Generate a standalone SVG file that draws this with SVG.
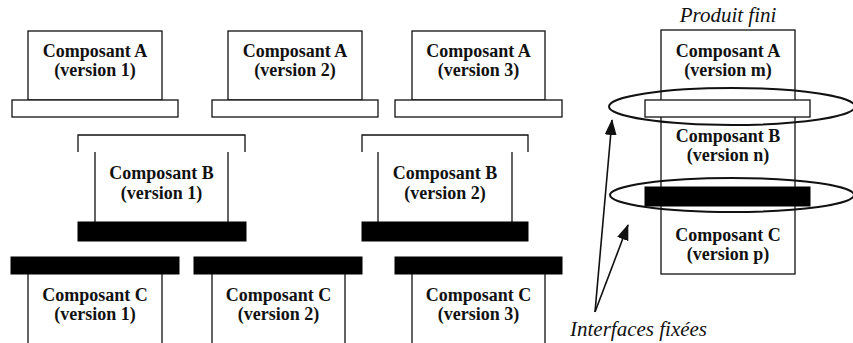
<svg xmlns="http://www.w3.org/2000/svg" width="853" height="343" viewBox="0 0 853 343">
<style>
.box{fill:#fff;stroke:#111;stroke-width:1.3}
.open{fill:none;stroke:#111;stroke-width:1.3}
.bar{fill:#000;stroke:#000;stroke-width:1}
text{font-family:'Liberation Serif','Times New Roman',Times,'DejaVu Serif',serif;fill:#111}
.t{font-size:18px;font-weight:bold;text-anchor:middle}
.it{font-size:21px;font-style:italic}
.ell{fill:none;stroke:#111;stroke-width:2}
.arr{stroke:#111;stroke-width:1.6;fill:none}
</style>
<defs>
<marker id="ah" viewBox="0 0 16 12" refX="15" refY="6" markerWidth="16" markerHeight="12" markerUnits="userSpaceOnUse" orient="auto">
<path d="M0,0 L16,6 L0,12 Z" fill="#111"/>
</marker>
</defs>
<rect width="853" height="343" fill="#fff"/>

<g id="A1">
<rect class="box" x="28" y="31" width="134" height="69"/>
<rect class="box" x="12" y="100" width="166" height="17"/>
<text class="t" x="95" y="57">Composant A</text>
<text class="t" x="95" y="76">(version 1)</text>
</g>
<g id="A2">
<rect class="box" x="228" y="31" width="134" height="69"/>
<rect class="box" x="212" y="100" width="166" height="17"/>
<text class="t" x="295" y="57">Composant A</text>
<text class="t" x="295" y="76">(version 2)</text>
</g>
<g id="A3">
<rect class="box" x="412" y="31" width="133" height="69"/>
<rect class="box" x="395" y="100" width="167" height="17"/>
<text class="t" x="478.5" y="57">Composant A</text>
<text class="t" x="478.5" y="76">(version 3)</text>
</g>

<g id="B1">
<path class="open" d="M78,152 V135 H245 V152"/>
<path class="open" d="M95,152 V222 M228,152 V222"/>
<rect class="bar" x="78" y="222" width="168" height="19"/>
<text class="t" x="161.5" y="179">Composant B</text>
<text class="t" x="161.5" y="199">(version 1)</text>
</g>
<g id="B2">
<path class="open" d="M362,152 V135 H528 V152"/>
<path class="open" d="M378,152 V222 M512,152 V222"/>
<rect class="bar" x="362" y="222" width="166" height="19"/>
<text class="t" x="445" y="179">Composant B</text>
<text class="t" x="445" y="199">(version 2)</text>
</g>

<g id="C1">
<rect class="bar" x="11" y="257" width="168" height="17"/>
<path class="open" d="M28,274 V345 M162,274 V345"/>
<text class="t" x="95" y="301">Composant C</text>
<text class="t" x="95" y="320">(version 1)</text>
</g>
<g id="C2">
<rect class="bar" x="194" y="257" width="168" height="17"/>
<path class="open" d="M212,274 V345 M345,274 V345"/>
<text class="t" x="278.5" y="301">Composant C</text>
<text class="t" x="278.5" y="320">(version 2)</text>
</g>
<g id="C3">
<rect class="bar" x="395" y="257" width="167" height="17"/>
<path class="open" d="M412,274 V345 M545,274 V345"/>
<text class="t" x="478.5" y="301">Composant C</text>
<text class="t" x="478.5" y="320">(version 3)</text>
</g>

<g id="produit">
<text class="it" x="728" y="22" text-anchor="middle">Produit fini</text>
<rect class="box" x="661" y="30" width="134" height="244"/>
<rect class="box" x="645" y="100" width="165" height="17"/>
<rect class="bar" x="645" y="187" width="165" height="19"/>
<text class="t" x="728" y="57">Composant A</text>
<text class="t" x="728" y="76">(version m)</text>
<text class="t" x="728" y="142">Composant B</text>
<text class="t" x="728" y="161">(version n)</text>
<text class="t" x="728" y="241">Composant C</text>
<text class="t" x="728" y="260">(version p)</text>
</g>

<g id="interfaces">
<ellipse class="ell" cx="732" cy="106.5" rx="123" ry="18.5"/>
<ellipse class="ell" cx="732" cy="195" rx="122" ry="17"/>
<text class="it" x="570" y="336">Interfaces fixées</text>
</g>

<g id="connectors">
<line class="arr" x1="595" y1="312" x2="612" y2="120" marker-end="url(#ah)"/>
<line class="arr" x1="595" y1="312" x2="628" y2="225" marker-end="url(#ah)"/>
</g>
</svg>
